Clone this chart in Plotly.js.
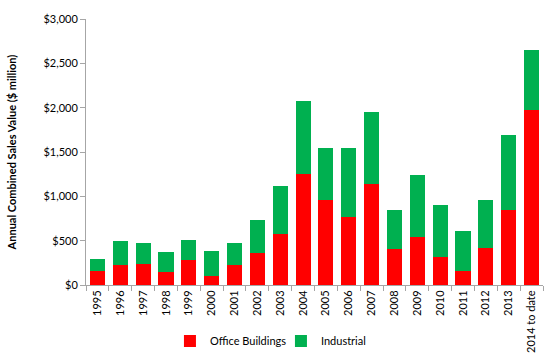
<!DOCTYPE html>
<html><head><meta charset="utf-8">
<script src="https://cdn.plot.ly/plotly-3.0.1.min.js"></script>
<style>body{margin:0;background:#fff}#c{width:550px;height:356px}</style>
</head><body><div id="c"></div>
<script>
const years = ["1995","1996","1997","1998","1999","2000","2001","2002","2003","2004","2005","2006","2007","2008","2009","2010","2011","2012","2013","2014 to date"];
const office = [158,225,237,143,282,101,222,357,575,1248,959,763,1139,410,541,320,158,421,846,1977];
const industrial = [139,268,240,229,222,279,248,373,541,827,590,778,808,436,700,578,447,541,842,673];

const font = "Lato, 'Open Sans', sans-serif";
const data = [
  {type:"bar", name:"Office Buildings", x:years, y:office, marker:{color:"#FF0000"}},
  {type:"bar", name:"Industrial", x:years, y:industrial, marker:{color:"#00B050"}}
];
const layout = {
  width:550, height:356, barmode:"stack", bargap:0.34,
  margin:{l:86, r:7, t:19, b:71},
  paper_bgcolor:"#fff", plot_bgcolor:"#fff",
  font:{family:font, size:11, color:"#000"},
  showlegend:true,
  legend:{orientation:"h", xref:"container", yref:"container", x:0.309, xanchor:"left", y:0.042, yanchor:"middle",
    font:{size:11}, traceorder:"normal", itemwidth:30, entrywidth:66, entrywidthmode:"pixels"},
  xaxis:{type:"category", automargin:false, tickangle:-90, showline:true, linecolor:"#a6a6a6", linewidth:1,
    ticks:"outside", tickson:"boundaries", ticklen:5, tickcolor:"#a6a6a6", tickfont:{size:11}, showgrid:false},
  yaxis:{range:[0,3000], automargin:false, dtick:500, tickprefix:"$", tickformat:",d", showline:true, linecolor:"#a6a6a6",
    ticks:"outside", ticklen:5, tickcolor:"#a6a6a6", showgrid:false, zeroline:false, tickfont:{size:11},
    title:{text:"<b>Annual Combined Sales Value ($ million)</b>", font:{size:11}, standoff:24}}
};
Plotly.newPlot("c", data, layout, {displayModeBar:false, staticPlot:true});
</script></body></html>
